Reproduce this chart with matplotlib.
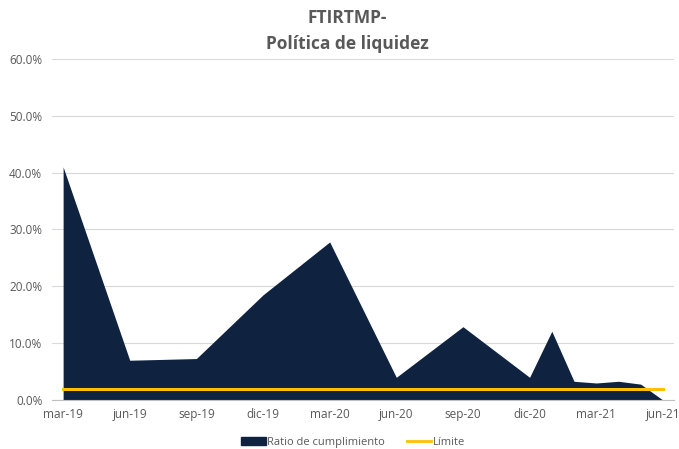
import numpy as np
import matplotlib.pyplot as plt
from matplotlib.patches import Patch
from matplotlib.lines import Line2D

plt.rcParams['font.family'] = ['Open Sans', 'DejaVu Sans']

# meses desde mar-19
meses = [0, 3, 6, 9, 12, 15, 18, 21, 22, 23, 24, 25, 26, 27]
ratio = [0.410, 0.070, 0.073, 0.185, 0.278, 0.040, 0.129, 0.040, 0.121, 0.033, 0.030, 0.033, 0.028, 0.0]
limite = 0.02
etiquetas = ['mar-19', 'jun-19', 'sep-19', 'dic-19', 'mar-20', 'jun-20',
             'sep-20', 'dic-20', 'mar-21', 'jun-21']
pos_etiquetas = [0, 3, 6, 9, 12, 15, 18, 21, 24, 27]

gris = '#595959'
azul = '#0F2341'
amarillo = '#FFC000'

fig = plt.figure(figsize=(6.79, 4.49), dpi=100)
ax = fig.add_axes([0.0766, 0.109, 0.916, 0.76])

ax.fill_between(meses, ratio, 0, color=azul, linewidth=0, zorder=2)
ax.plot([meses[0], meses[-1]], [limite, limite], color=amarillo, linewidth=2.2, zorder=3)

ax.set_xlim(-0.5, 27.5)
ax.set_ylim(0, 0.6)
ax.set_yticks(np.arange(0, 0.61, 0.1))
ax.set_yticklabels(['%.1f%%' % (v * 100) for v in np.arange(0, 0.61, 0.1)])
ax.set_xticks(pos_etiquetas)
ax.set_xticklabels(etiquetas)
ax.tick_params(colors=gris, labelsize=8.5, length=0)
ax.tick_params(axis='x', pad=6)
ax.tick_params(axis='y', pad=7)
ax.grid(axis='y', color='#D9D9D9', linewidth=0.8, zorder=0)
ax.set_axisbelow(True)
for s in ['top', 'right', 'left']:
    ax.spines[s].set_visible(False)
ax.spines['bottom'].set_color('#BFBFBF')

fig.text(0.512, 0.96, 'FTIRTMP-', ha='center', va='center', fontsize=12.5, fontweight='bold', color=gris)
fig.text(0.512, 0.902, 'Política de liquidez', ha='center', va='center', fontsize=12.5, fontweight='bold', color=gris)

handles = [Patch(color=azul), Line2D([0], [0], color=amarillo, linewidth=2)]
fig.legend(handles, ['Ratio de cumplimiento', 'Límite'], loc='center', bbox_to_anchor=(0.52, 0.015),
           ncol=2, frameon=False, fontsize=8, labelcolor=gris, handlelength=2.2, handleheight=0.7,
           handletextpad=0.1, columnspacing=2)

plt.savefig('out.png', dpi=100)
